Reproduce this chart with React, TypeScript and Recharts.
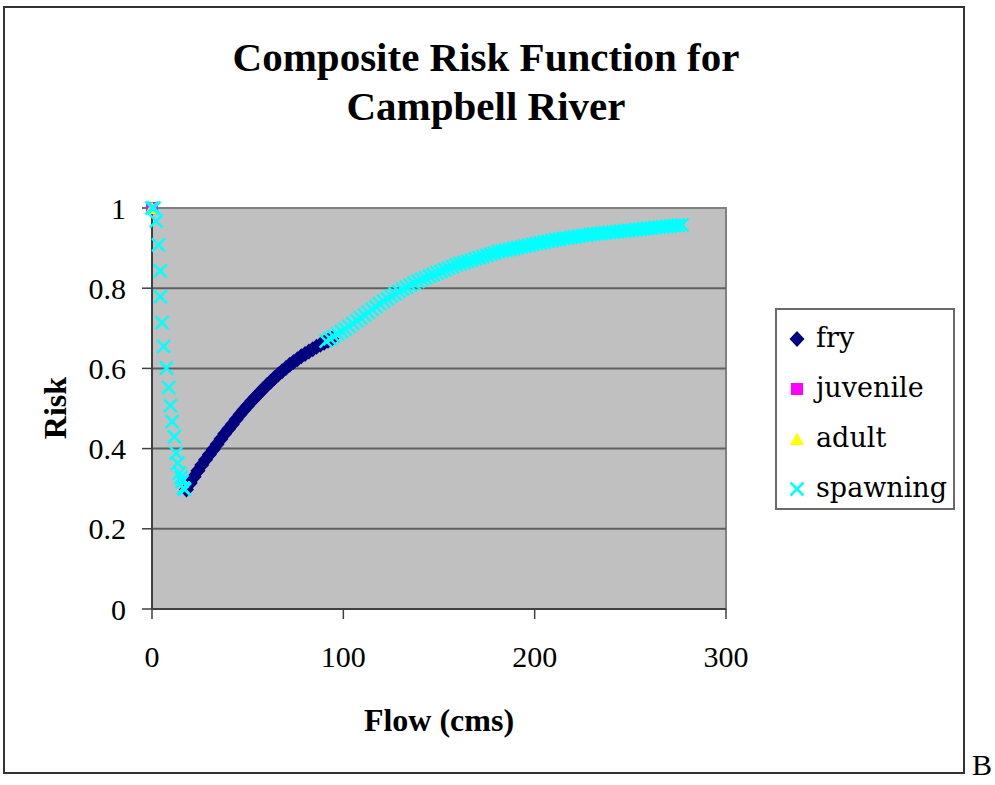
import { ReferenceArea, ReferenceLine, Scatter, ScatterChart, XAxis, YAxis } from "recharts";

// Values (Flow in cms, Risk 0..1).
const FRY_FLOW = [18, 20, 22, 24, 26, 28, 30, 32, 34, 36, 38, 40, 42, 44, 46, 48, 50, 52, 54, 56, 58, 60, 62, 64, 66, 68, 70, 72, 74, 76, 78, 80, 82, 84, 86, 88, 90, 92, 94];
const FRY_RISK = [0.298, 0.314, 0.33, 0.345, 0.359, 0.372, 0.385, 0.398, 0.411, 0.424, 0.437, 0.449, 0.461, 0.473, 0.485, 0.496, 0.507, 0.518, 0.528, 0.538, 0.548, 0.558, 0.567, 0.576, 0.585, 0.593, 0.601, 0.609, 0.616, 0.623, 0.63, 0.636, 0.642, 0.648, 0.654, 0.659, 0.664, 0.669, 0.674];

const JUVENILE_FLOW = [0];
const JUVENILE_RISK = [1];

const ADULT_FLOW = [0];
const ADULT_RISK = [1];

// spawning: steep drop at low flow, then the long rising arm
const SPAWN_LOW_FLOW = [0, 1, 2.2, 3.4, 4.3, 4.4, 5.2, 6.1, 7.5, 8.7, 9.6, 10.5, 11.7, 12.7, 13.4, 14.4, 15.2, 15.7, 16.4, 17];
const SPAWN_LOW_RISK = [1, 1, 0.967, 0.908, 0.843, 0.779, 0.714, 0.655, 0.601, 0.552, 0.507, 0.467, 0.43, 0.389, 0.364, 0.339, 0.328, 0.318, 0.302, 0.298];
const SPAWN_HIGH_FLOW = [91, 93, 95, 97, 99, 101, 103, 105, 107, 109, 111, 113, 115, 117, 119, 121, 123, 125, 127, 129, 131, 133, 135, 137, 139, 141, 143, 145, 147, 149, 151, 153, 155, 157, 159, 161, 163, 165, 167, 169, 171, 173, 175, 177, 179, 181, 183, 185, 187, 189, 191, 193, 195, 197, 199, 201, 203, 205, 207, 209, 211, 213, 215, 217, 219, 221, 223, 225, 227, 229, 231, 233, 235, 237, 239, 241, 243, 245, 247, 249, 251, 253, 255, 257, 259, 261, 263, 265, 267, 269, 271, 273, 275, 277];
const SPAWN_HIGH_RISK = [0.668, 0.674, 0.68, 0.686, 0.692, 0.698, 0.705, 0.712, 0.719, 0.726, 0.733, 0.74, 0.747, 0.754, 0.761, 0.768, 0.774, 0.78, 0.786, 0.792, 0.797, 0.802, 0.807, 0.812, 0.817, 0.822, 0.826, 0.83, 0.834, 0.838, 0.842, 0.846, 0.85, 0.854, 0.858, 0.861, 0.864, 0.867, 0.87, 0.873, 0.876, 0.879, 0.882, 0.885, 0.888, 0.891, 0.893, 0.895, 0.897, 0.899, 0.901, 0.903, 0.905, 0.907, 0.909, 0.911, 0.913, 0.915, 0.917, 0.919, 0.921, 0.922, 0.924, 0.925, 0.927, 0.928, 0.93, 0.931, 0.932, 0.934, 0.935, 0.936, 0.937, 0.938, 0.939, 0.94, 0.941, 0.942, 0.943, 0.944, 0.945, 0.946, 0.947, 0.948, 0.949, 0.95, 0.951, 0.952, 0.953, 0.954, 0.955, 0.956, 0.957, 0.958];

const X_TICKS = [0, 100, 200, 300];
const Y_TICKS = [0, 0.2, 0.4, 0.6, 0.8, 1];
const GRID_Y = [0.2, 0.4, 0.6, 0.8];

const zip = (xs: number[], ys: number[]) => xs.map((x, i) => ({ flow: x, risk: ys[i] }));

const fry = zip(FRY_FLOW, FRY_RISK);
const juvenile = zip(JUVENILE_FLOW, JUVENILE_RISK);
const adult = zip(ADULT_FLOW, ADULT_RISK);
const spawning = [...zip(SPAWN_LOW_FLOW, SPAWN_LOW_RISK), ...zip(SPAWN_HIGH_FLOW, SPAWN_HIGH_RISK)];

const NAVY = "#000080";
const MAGENTA = "#ff00ff";
const YELLOW = "#ffff00";
const CYAN = "#00ffff";

const SERIF = "'Liberation Serif', 'Times New Roman', serif";

const Diamond = ({ cx, cy }: any) => (
  <path d={`M${cx},${cy - 8}L${cx + 7.5},${cy}L${cx},${cy + 8}L${cx - 7.5},${cy}Z`} fill={NAVY} />
);
const Square = ({ cx, cy }: any) => <rect x={cx - 6} y={cy - 6} width={12} height={12} fill={MAGENTA} />;
const Triangle = ({ cx, cy }: any) => (
  <path d={`M${cx},${cy - 6.5}L${cx + 7},${cy + 6}L${cx - 7},${cy + 6}Z`} fill={YELLOW} />
);
const Cross = ({ cx, cy }: any) => (
  <path
    d={`M${cx - 6.5},${cy - 6.5}L${cx + 6.5},${cy + 6.5}M${cx + 6.5},${cy - 6.5}L${cx - 6.5},${cy + 6.5}`}
    stroke={CYAN}
    strokeWidth={2.5}
    fill="none"
  />
);

const LEGEND = [
  { label: "fry", Shape: Diamond },
  { label: "juvenile", Shape: Square },
  { label: "adult", Shape: Triangle },
  { label: "spawning", Shape: Cross },
];

export default function App() {
  return (
    <div style={{ position: "absolute", left: 0, top: 0, width: 995, height: 785, background: "#fff", fontFamily: SERIF }}>
      <div style={{ position: "absolute", left: 3, top: 6, width: 958, height: 764, border: "2px solid #333" }} />

      <div
        style={{
          position: "absolute",
          left: 186,
          top: 33,
          width: 600,
          textAlign: "center",
          fontSize: 41,
          lineHeight: "49px",
          fontWeight: "bold",
        }}
      >
        Composite Risk Function for
        <br />
        Campbell River
      </div>

      <div style={{ position: "absolute", left: 0, top: 0 }}>
        <ScatterChart width={995} height={785} margin={{ top: 208, right: 269, bottom: 0, left: 0 }}>
          <ReferenceArea x1={0} x2={300} y1={0} y2={1} fill="#c0c0c0" fillOpacity={1} stroke="#808080" strokeWidth={2} />
          {GRID_Y.map((y) => (
            <ReferenceLine key={y} y={y} stroke="#5f5f5f" strokeWidth={2} />
          ))}
          <XAxis
            dataKey="flow"
            type="number"
            domain={[0, 300]}
            ticks={X_TICKS}
            height={176}
            tickSize={10}
            tickMargin={27}
            axisLine={{ stroke: "#404040", strokeWidth: 2 }}
            tickLine={{ stroke: "#404040", strokeWidth: 1.5 }}
            tick={{ fontSize: 30, fill: "#000", fontFamily: SERIF }}
          />
          <YAxis
            dataKey="risk"
            type="number"
            domain={[0, 1]}
            ticks={Y_TICKS}
            width={152}
            tickSize={10}
            tickMargin={16}
            axisLine={{ stroke: "#404040", strokeWidth: 2 }}
            tickLine={{ stroke: "#404040", strokeWidth: 1.5 }}
            tick={{ fontSize: 30, fill: "#000", fontFamily: SERIF }}
          />
          <Scatter name="fry" data={fry} shape={<Diamond />} isAnimationActive={false} />
          <Scatter name="juvenile" data={juvenile} shape={<Square />} isAnimationActive={false} />
          <Scatter name="adult" data={adult} shape={<Triangle />} isAnimationActive={false} />
          <Scatter name="spawning" data={spawning} shape={<Cross />} isAnimationActive={false} />
        </ScatterChart>
      </div>

      <div
        style={{
          position: "absolute",
          left: 239,
          top: 700,
          width: 400,
          textAlign: "center",
          fontSize: 32,
          lineHeight: "40px",
          fontWeight: "bold",
        }}
      >
        Flow (cms)
      </div>
      <div
        style={{
          position: "absolute",
          left: -45,
          top: 388,
          width: 200,
          height: 40,
          textAlign: "center",
          fontSize: 32,
          lineHeight: "40px",
          fontWeight: "bold",
          transform: "rotate(-90deg)",
        }}
      >
        Risk
      </div>

      <div
        style={{
          position: "absolute",
          left: 775,
          top: 308,
          width: 176,
          height: 198,
          border: "2px solid #6a6a6a",
          background: "#fff",
        }}
      >
        {LEGEND.map(({ label, Shape }, i) => (
          <div key={label} style={{ position: "absolute", left: 0, top: 4 + i * 50, height: 50, width: 176 }}>
            <svg width={30} height={50} style={{ position: "absolute", left: 5, top: 0 }}>
              <Shape cx={15} cy={25} />
            </svg>
            <span
              style={{
                position: "absolute",
                left: 39,
                top: 0,
                lineHeight: "48px",
                fontSize: 27,
                fontFamily: "'DejaVu Serif', serif",
                whiteSpace: "nowrap",
              }}
            >
              {label}
            </span>
          </div>
        ))}
      </div>

      <div style={{ position: "absolute", left: 972, top: 750, fontSize: 30, lineHeight: "30px" }}>B</div>
    </div>
  );
}
